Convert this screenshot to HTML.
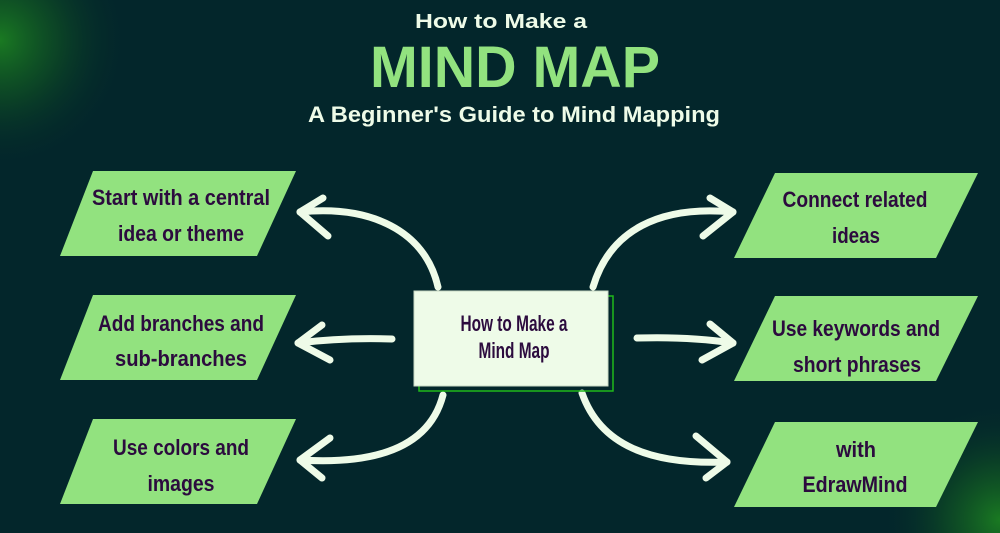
<!DOCTYPE html>
<html><head><meta charset="utf-8"><style>
html,body{margin:0;padding:0;width:1000px;height:533px;overflow:hidden;background:#03262b;}
svg{display:block}
.t{font-family:"Liberation Sans",sans-serif;font-weight:bold;fill:#2c0b3e;font-size:22px;text-anchor:middle}
.h{font-family:"Liberation Sans",sans-serif;font-weight:bold;text-anchor:middle}
</style></head><body>
<svg width="1000" height="533" viewBox="0 0 1000 533" xmlns="http://www.w3.org/2000/svg">
<defs>
<radialGradient id="g1" cx="0" cy="40" r="130" gradientUnits="userSpaceOnUse">
<stop offset="0" stop-color="#1a7a22"/><stop offset="0.45" stop-color="#0e4d24" stop-opacity="0.75"/><stop offset="1" stop-color="#03262b" stop-opacity="0"/></radialGradient>
<radialGradient id="g2" cx="1000" cy="520" r="120" gradientUnits="userSpaceOnUse">
<stop offset="0" stop-color="#1a7a22"/><stop offset="0.45" stop-color="#0e4d24" stop-opacity="0.75"/><stop offset="1" stop-color="#03262b" stop-opacity="0"/></radialGradient>
</defs>
<rect width="1000" height="533" fill="#03262b"/>
<rect width="1000" height="533" fill="url(#g1)"/>
<rect width="1000" height="533" fill="url(#g2)"/>

<text class="h" x="501" y="28" font-size="20" fill="#eefbe8" textLength="172" lengthAdjust="spacingAndGlyphs">How to Make a</text>
<text class="h" x="515" y="87" font-size="58" fill="#92e27f" textLength="290" lengthAdjust="spacingAndGlyphs">MIND MAP</text>
<text class="h" x="514" y="122" font-size="22" fill="#eefbe8" textLength="412" lengthAdjust="spacingAndGlyphs">A Beginner's Guide to Mind Mapping</text>

<g fill="#92e27f">
<polygon points="93,171 296,171 257,256 60,256"/>
<polygon points="93,295 296,295 257,380 60,380"/>
<polygon points="93,419 296,419 257,504 60,504"/>
<polygon points="775,173 978,173 936,258 734,258"/>
<polygon points="775,296 978,296 936,381 734,381"/>
<polygon points="775,422 978,422 936,507 734,507"/>
</g>
<text class="t" x="181" y="205" textLength="178" lengthAdjust="spacingAndGlyphs">Start with a central</text>
<text class="t" x="181" y="241" textLength="126" lengthAdjust="spacingAndGlyphs">idea or theme</text>
<text class="t" x="181" y="331" textLength="166" lengthAdjust="spacingAndGlyphs">Add branches and</text>
<text class="t" x="181" y="366" textLength="132" lengthAdjust="spacingAndGlyphs">sub-branches</text>
<text class="t" x="181" y="455" textLength="136" lengthAdjust="spacingAndGlyphs">Use colors and</text>
<text class="t" x="181" y="491" textLength="67" lengthAdjust="spacingAndGlyphs">images</text>
<text class="t" x="855" y="207" textLength="145" lengthAdjust="spacingAndGlyphs">Connect related</text>
<text class="t" x="856" y="243" textLength="48" lengthAdjust="spacingAndGlyphs">ideas</text>
<text class="t" x="856" y="336" textLength="168" lengthAdjust="spacingAndGlyphs">Use keywords and</text>
<text class="t" x="857" y="372" textLength="128" lengthAdjust="spacingAndGlyphs">short phrases</text>
<text class="t" x="856" y="457" textLength="40" lengthAdjust="spacingAndGlyphs">with</text>
<text class="t" x="855" y="492" textLength="105" lengthAdjust="spacingAndGlyphs">EdrawMind</text>

<g fill="none" stroke="#eefbe8" stroke-width="7" stroke-linecap="round" stroke-linejoin="round">
<path d="M438,287 C425,230 370,205 300,212"/>
<path d="M323,198 L300,212 L328,236"/>
<path d="M392,339 C360,338 330,339 298,343"/>
<path d="M322,325 L298,343 L330,360"/>
<path d="M443,395 C430,445 380,465 300,460"/>
<path d="M330,438 L300,460 L322,478"/>
<path d="M593,287 C610,230 660,205 733,212"/>
<path d="M710,198 L733,212 L703,236"/>
<path d="M637,338 C670,337 700,338 733,343"/>
<path d="M710,324 L733,343 L702,360"/>
<path d="M582,393 C600,445 650,465 727,462"/>
<path d="M696,436 L727,462 L706,478"/>
</g>

<rect x="419" y="296" width="194" height="95" fill="none" stroke="#1fb81a" stroke-width="1.5"/>
<rect x="414" y="291" width="194" height="95" fill="#eefbe8" stroke="#c8d8c4" stroke-width="1"/>
<text class="t" x="514" y="331" font-size="16" textLength="107" lengthAdjust="spacingAndGlyphs">How to Make a</text>
<text class="t" x="514" y="358" font-size="16" textLength="71" lengthAdjust="spacingAndGlyphs">Mind Map</text>
</svg>
</body></html>
